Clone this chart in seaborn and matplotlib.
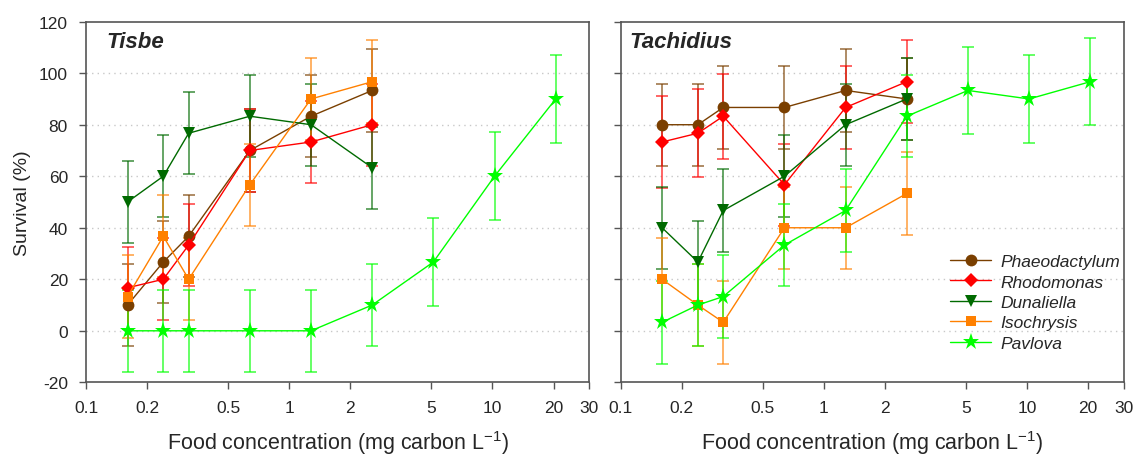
import numpy as np
import pandas as pd
import matplotlib
matplotlib.use("Agg")
import matplotlib.pyplot as plt
import seaborn as sns

# food concentrations (mg carbon / L)
conc = [0.16, 0.24, 0.32, 0.64, 1.28, 2.56]
conc_pav = [0.16, 0.24, 0.32, 0.64, 1.28, 2.56, 5.12, 10.24, 20.48]

algae = ["Phaeodactylum", "Rhodomonas", "Dunaliella", "Isochrysis", "Pavlova"]

# Tisbe survival (%) and SD
tis_phaeo = [10, 26.7, 36.7, 70, 83.3, 93.3]
tis_phaeo_sd = [16, 16, 16, 16, 16, 16]
tis_rhodo = [16.7, 20, 33.3, 70, 73.3, 80]
tis_rhodo_sd = [16, 16, 16, 16, 16, 16]
tis_duna = [50, 60, 76.7, 83.3, 80, 63.3]
tis_duna_sd = [16, 16, 16, 16, 16, 16]
tis_iso = [13.3, 36.7, 20, 56.7, 90, 96.7]
tis_iso_sd = [16, 16, 16, 16, 16, 16]
tis_pav = [0, 0, 0, 0, 0, 10, 26.7, 60, 90]
tis_pav_sd = [16, 16, 16, 16, 16, 16, 17, 17, 17]

# Tachidius survival (%) and SD
tac_phaeo = [80, 80, 86.7, 86.7, 93.3, 90]
tac_phaeo_sd = [16, 16, 16, 16, 16, 16]
tac_rhodo = [73.3, 76.7, 83.3, 56.7, 86.7, 96.7]
tac_rhodo_sd = [18, 17, 16.5, 16, 16, 16]
tac_duna = [40, 26.7, 46.7, 60, 80, 90]
tac_duna_sd = [16, 16, 16, 16, 16, 16]
tac_iso = [20, 10, 3.3, 40, 40, 53.3]
tac_iso_sd = [16, 16, 16, 16, 16, 16]
tac_pav = [3.3, 10, 13.3, 33.3, 46.7, 83.3, 93.3, 90, 96.7]
tac_pav_sd = [16, 16, 16, 16, 16, 16, 17, 17, 17]

xticks = [0.1, 0.2, 0.5, 1, 2, 5, 10, 20, 30]
xticklabels = ["0.1", "0.2", "0.5", "1", "2", "5", "10", "20", "30"]

colors = {"Phaeodactylum": "#7a3f00", "Rhodomonas": "#ff0000",
          "Dunaliella": "#006a00", "Isochrysis": "#ff8000", "Pavlova": "#00ff00"}
markers = {"Phaeodactylum": "o", "Rhodomonas": "D", "Dunaliella": "v",
           "Isochrysis": "s", "Pavlova": "*"}
msizes = {"Phaeodactylum": 8.5, "Rhodomonas": 7.5, "Dunaliella": 8.5,
          "Isochrysis": 7.5, "Pavlova": 12.5}


def make_df(vals, sds):
    rows = []
    for alga, v, s in zip(algae, vals, sds):
        xs = conc_pav if alga == "Pavlova" else conc
        for x, y, e in zip(xs, v, s):
            rows.append({"conc": x, "survival": y, "sd": e, "alga": alga})
    return pd.DataFrame(rows)


df_tis = make_df([tis_phaeo, tis_rhodo, tis_duna, tis_iso, tis_pav],
                 [tis_phaeo_sd, tis_rhodo_sd, tis_duna_sd, tis_iso_sd, tis_pav_sd])
df_tac = make_df([tac_phaeo, tac_rhodo, tac_duna, tac_iso, tac_pav],
                 [tac_phaeo_sd, tac_rhodo_sd, tac_duna_sd, tac_iso_sd, tac_pav_sd])

sns.set_style("ticks")
plt.rcParams["font.family"] = ["Liberation Sans", "DejaVu Sans"]
plt.rcParams["axes.unicode_minus"] = False
plt.rcParams["mathtext.fontset"] = "custom"
plt.rcParams["mathtext.rm"] = "Liberation Sans"

fig, axes = plt.subplots(1, 2, figsize=(11.44, 4.6), dpi=100, sharey=True)
fig.subplots_adjust(left=0.0752, right=0.9825, bottom=0.1667, top=0.9507, wspace=0.062)

for ax, df, name, tx in zip(axes, [df_tis, df_tac], ["Tisbe", "Tachidius"], [0.04, 0.018]):
    for y in range(0, 101, 20):
        ax.axhline(y, color="#c8c8c8", lw=1, ls=(0, (1, 3)), zorder=0)
    for alga in algae:
        sub = df[df["alga"] == alga]
        ax.errorbar(sub["conc"], sub["survival"], yerr=sub["sd"], fmt="none",
                    ecolor=colors[alga], alpha=0.65, elinewidth=1.3,
                    capsize=4, capthick=1.3, zorder=2)
    for alga in algae:
        sub = df[df["alga"] == alga]
        sns.lineplot(data=sub, x="conc", y="survival", color=colors[alga],
                     marker=markers[alga], markersize=msizes[alga],
                     markeredgewidth=0, lw=1, label=alga, ax=ax, zorder=3,
                     errorbar=None)
    ax.set_xscale("log")
    ax.set_xlim(0.1, 30)
    ax.set_ylim(-20, 120)
    ax.set_xticks(xticks)
    ax.set_xticklabels(xticklabels)
    ax.xaxis.set_minor_locator(matplotlib.ticker.NullLocator())
    ax.set_yticks(range(-20, 121, 20))
    ax.tick_params(labelsize=12.5, length=5, color="#555555", width=1, pad=8)
    for sp in ax.spines.values():
        sp.set_color("#555555")
        sp.set_linewidth(1.2)
    ax.set_xlabel("Food concentration (mg carbon L$^{\\mathrm{-1}}$)", fontsize=15.5, labelpad=9)
    ax.set_ylabel("")
    ax.text(tx, 0.975, name, transform=ax.transAxes, fontsize=16,
            fontweight="bold", fontstyle="italic", va="top", ha="left")

axes[0].set_ylabel("Survival (%)", fontsize=14, labelpad=6)
axes[0].get_legend().remove()
axes[1].tick_params(axis="y", labelleft=False)
leg = axes[1].legend(loc="upper left", bbox_to_anchor=(0.64, 0.375), frameon=False,
                     prop={"style": "italic", "size": 12.5}, handlelength=2.4,
                     labelspacing=0.3, handletextpad=0.5, borderaxespad=0)

fig.savefig("out.png", dpi=100)
